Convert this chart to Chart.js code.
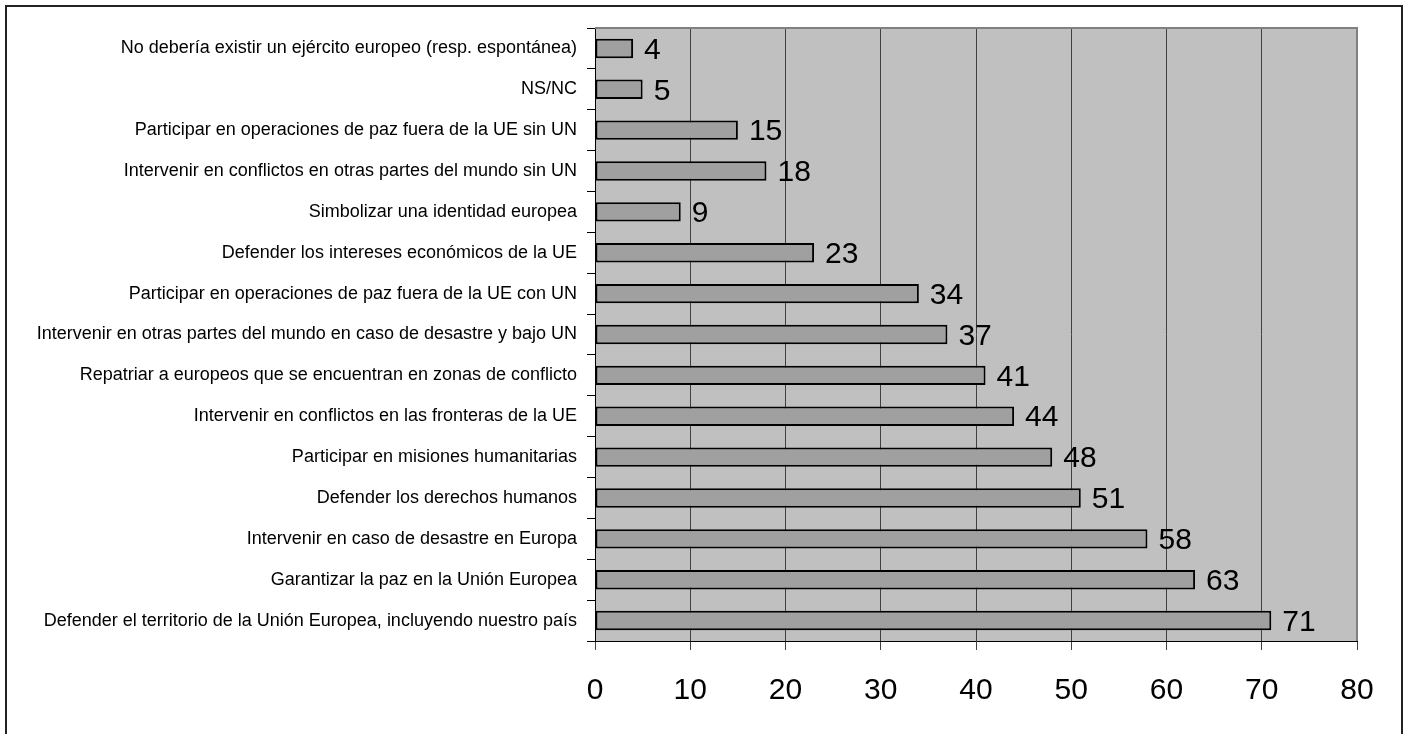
<!DOCTYPE html>
<html>
<head>
<meta charset="utf-8">
<script src="https://cdn.jsdelivr.net/npm/chart.js@4/dist/chart.umd.min.js"></script>
<style>
  html, body { margin: 0; padding: 0; background: #fff; }
  #wrap { width: 1409px; height: 734px; }
</style>
</head>
<body>
<div id="wrap"><canvas id="c" width="1409" height="734"></canvas></div>
<script>
'use strict';
// categorías (de arriba a abajo) y porcentajes
const labels = [
  'No debería existir un ejército europeo (resp. espontánea)',
  'NS/NC',
  'Participar en operaciones de paz fuera de la UE sin UN',
  'Intervenir en conflictos en otras partes del mundo sin UN',
  'Simbolizar una identidad europea',
  'Defender los intereses económicos de la UE',
  'Participar en operaciones de paz fuera de la UE con UN',
  'Intervenir en otras partes del mundo en caso de desastre y bajo UN',
  'Repatriar a europeos que se encuentran en zonas de conflicto',
  'Intervenir en conflictos en las fronteras de la UE',
  'Participar en misiones humanitarias',
  'Defender los derechos humanos',
  'Intervenir en caso de desastre en Europa',
  'Garantizar la paz en la Unión Europea',
  'Defender el territorio de la Unión Europea, incluyendo nuestro país',
];
const values = [4, 5, 15, 18, 9, 23, 34, 37, 41, 44, 48, 51, 58, 63, 71];
const xMin = 0, xMax = 80, xStep = 10;

const FONT = '"Liberation Sans", Arial, sans-serif';

// fondo gris del área de trazado + marco exterior
const frame = {
  id: 'frame',
  beforeDraw(chart) {
    const { ctx, chartArea: a } = chart;
    ctx.save();
    ctx.fillStyle = '#c0c0c0';
    ctx.fillRect(a.left, a.top, a.right - a.left, a.bottom - a.top);
    ctx.restore();
  },
  afterDraw(chart) {
    const { ctx, chartArea: a } = chart;
    ctx.save();
    ctx.strokeStyle = '#808080';
    ctx.lineWidth = 2;
    ctx.beginPath();
    ctx.moveTo(a.left, a.top); ctx.lineTo(a.right, a.top); ctx.lineTo(a.right, a.bottom);
    ctx.stroke();
    ctx.strokeStyle = '#222';
    ctx.lineWidth = 2;
    ctx.beginPath();
    ctx.moveTo(6, 740); ctx.lineTo(6, 6); ctx.lineTo(1402, 6); ctx.lineTo(1402, 740);
    ctx.stroke();
    ctx.restore();
  },
};

// valores junto a cada barra
const valueLabels = {
  id: 'valueLabels',
  afterDatasetsDraw(chart) {
    const { ctx } = chart;
    const meta = chart.getDatasetMeta(0);
    ctx.save();
    ctx.fillStyle = '#000';
    ctx.font = '30px ' + FONT;
    ctx.textBaseline = 'middle';
    ctx.textAlign = 'left';
    meta.data.forEach((bar, i) => {
      ctx.fillText(String(values[i]), bar.x + 11, bar.y + 2);
    });
    ctx.restore();
  },
};

new Chart(document.getElementById('c'), {
  type: 'bar',
  data: {
    labels,
    datasets: [{
      data: values,
      backgroundColor: '#a0a0a0',
      borderColor: '#000',
      borderWidth: 2,
      borderSkipped: false,
      barPercentage: 0.95,
      categoryPercentage: 0.5,
    }],
  },
  options: {
    indexAxis: 'y',
    responsive: false,
    animation: false,
    layout: { padding: { left: 0, top: 28, right: 52, bottom: 0 } },
    plugins: { legend: { display: false }, tooltip: { enabled: false } },
    scales: {
      x: {
        min: xMin, max: xMax,
        afterFit: s => { s.height = 93; },
        ticks: { stepSize: xStep, color: '#000', padding: 23, font: { family: FONT, size: 30 } },
        grid: { color: '#404040', lineWidth: 1, tickLength: 9, tickColor: '#404040' },
        border: { color: '#000', width: 1 },
      },
      y: {
        afterFit: s => { s.width = 595; },
        ticks: { color: '#000', padding: 10, font: { family: FONT, size: 18 } },
        grid: { drawOnChartArea: false, tickLength: 8, tickColor: '#000', offset: true },
        border: { color: '#000', width: 1 },
      },
    },
  },
  plugins: [frame, valueLabels],
});
</script>
</body>
</html>
